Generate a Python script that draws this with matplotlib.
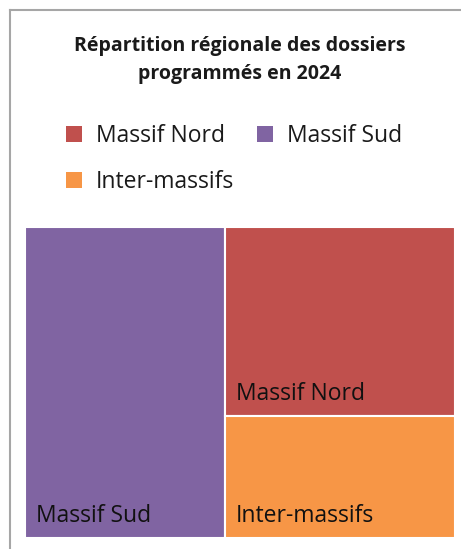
import matplotlib
matplotlib.use("Agg")
from matplotlib import pyplot as plt
from matplotlib.patches import Rectangle, Patch

plt.rcParams["font.family"] = ["Open Sans", "DejaVu Sans"]

# dossiers programmés par massif
regions = ["Massif Sud", "Massif Nord", "Inter-massifs"]
dossiers = [20, 14, 9]
colors = {"Massif Nord": "#C0504D", "Massif Sud": "#8064A2", "Inter-massifs": "#F79646"}
legend_order = ["Massif Nord", "Inter-massifs", "Massif Sud"]  # column-filled -> row order Nord, Sud / Inter

W, H = 461, 549
fig = plt.figure(figsize=(W / 100, H / 100), dpi=100)

# chart border (left + top visible)
fig.add_artist(plt.Line2D([9.5 / W, 9.5 / W], [0, 1 - 9.5 / H], color="#A6A6A6", lw=1.5))
fig.add_artist(plt.Line2D([9.5 / W, 1], [1 - 9.5 / H, 1 - 9.5 / H], color="#A6A6A6", lw=1.5))

fig.text(240 / W, 1 - 60 / H, "Répartition régionale des dossiers\nprogrammés en 2024",
         ha="center", va="center", fontsize=14, fontweight="bold", linespacing=1.55, color="#1a1a1a")

handles = [Patch(facecolor=colors[r], edgecolor="none", label=r) for r in legend_order]
fig.legend(handles=handles, ncol=2, loc="upper left", bbox_to_anchor=(66 / W, 1 - 124 / H),
           frameon=False, fontsize=16.5, handlelength=0.7, handleheight=0.7, handletextpad=0.6,
           columnspacing=1.0, labelspacing=0.95, labelcolor="#1a1a1a", borderaxespad=0,
           borderpad=0)

ax = fig.add_axes([25 / W, (H - 538) / H, 430 / W, 311 / H])
ax.set_xlim(0, 1)
ax.set_ylim(0, 1)
ax.axis("off")

total = sum(dossiers)
# slice-and-dice: largest takes the left column, the rest split the right column
w0 = dossiers[0] / total
rest = sum(dossiers[1:])
rects = [(regions[0], 0, 0, w0, 1)]
y = 1
for r, v in zip(regions[1:], dossiers[1:]):
    h = v / rest
    rects.append((r, w0, y - h, 1 - w0, h))
    y -= h

for name, x0, y0, w, h in rects:
    ax.add_patch(Rectangle((x0, y0), w, h, facecolor=colors[name], edgecolor="white", lw=1.5))
    ax.text(x0 + 11 / 430, y0 + 10 / 311, name, ha="left", va="bottom", fontsize=16.5, color="#111111")

fig.savefig("out.png", dpi=100)
